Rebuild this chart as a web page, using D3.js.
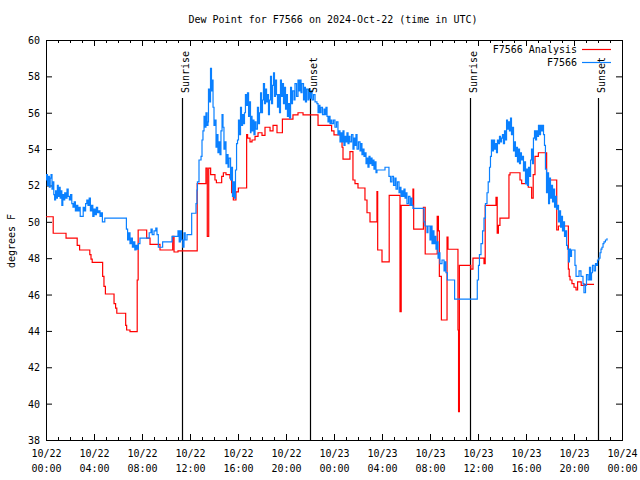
<!DOCTYPE html>
<html><head><meta charset="utf-8">
<script src="https://cdn.jsdelivr.net/npm/d3@7"></script>
<style>
body{margin:0;background:#fff}
svg{display:block}
text{font-family:"DejaVu Sans Mono","Liberation Mono",monospace;font-size:10px;fill:#000}
</style>
</head><body>
<svg id="chart" width="640" height="480"></svg>
<script>
const chartTitle = "Dew Point for F7566 on 2024-Oct-22 (time in UTC)";
const yAxisLabel = "degrees F";
const seriesNames = ["F7566 Analysis", "F7566"];
const seriesColors = ["#ff0000", "#0a80ff"];
const startTime = "2024-10-22T00:00:00Z";
const endTime = "2024-10-24T00:00:00Z";
const yDomain = [38, 60];
const yTickValues = [38, 40, 42, 44, 46, 48, 50, 52, 54, 56, 58, 60];
const eventNames = ["Sunrise", "Sunset", "Sunrise", "Sunset"];
const eventHours = [11.37, 22.0, 35.35, 45.96];

// hours since 2024-10-22 00:00 UTC, dew point (F)
const analysisSeries = [
[0,50.28],[0.6,49.37],[1.67,49.1],[2.6,48.7],[2.8,48.45],[3.65,48.2],[3.75,47.95],[3.85,47.77],[4.72,47.0],[4.83,46.45],[4.95,46.03],[5.67,45.5],[5.8,45.25],[5.9,44.97],[6.64,44.3],[6.72,44.05],[7.0,43.96],[7.6,46.8],[7.68,49.55],[8.39,49.1],[8.67,48.76],[9.5,48.45],[10.56,49.2],[10.67,48.34],[11.0,48.4],
[12.6,52.1],[13.33,52.95],[13.44,49.2],[13.56,52.95],[13.72,52.6],[14.08,52.3],[14.2,52.15],[14.64,52.5],[14.78,52.7],[15.0,52.6],[15.33,52.4],[15.47,51.6],[15.61,51.2],[15.83,51.65],[16.03,51.86],[16.72,54.8],[16.8,54.6],[17.0,54.4],[17.17,54.5],[17.42,54.7],[17.67,54.9],[18.0,54.75],[18.25,55.2],[18.67,55.0],[18.92,55.3],[19.25,54.9],[19.7,55.65],[20.58,55.88],[21.0,56.0],[21.42,55.88],[22.67,55.3],[23.8,55.0],[24.0,54.78],[24.67,54.1],[24.75,53.45],[25.33,53.86],[25.58,52.3],[25.75,52.1],[26.0,51.86],[26.58,51.2],[26.75,50.5],[27.0,50.0],[27.58,51.66],[27.64,48.45],[28.0,47.8],[28.6,51.45],[29.5,45.06],[29.6,50.9],[30.58,51.8],[30.64,49.6],[31.45,50.8],[31.6,48.23],[32.6,50.3],[32.7,49.5],[32.78,47.0],[32.95,44.6],[33.42,49.16],[33.5,48.49],[34.33,44.05],[34.38,39.56],[34.45,47.6],[35.4,47.4],[35.58,48.0],[36.5,47.7],[36.6,50.9],[37.5,51.35],[37.6,49.37],[37.7,49.8],[37.83,50.2],[38.58,52.58],[38.67,52.7],[39.5,52.3],[39.64,52.1],[40.19,51.9],[40.47,51.3],[40.6,52.6],[40.75,53.6],[41.03,53.8],[41.72,52.5],[41.78,52.3],[42.56,49.55],[42.7,49.77],[43.53,47.4],[43.6,47.0],[43.67,46.8],[43.83,46.6],[44.0,46.4],[44.17,46.25],[44.3,46.7],[44.6,46.5],[44.85,46.56],[45.67,46.56]
];

const observedSeries = [
[0.0,52.3],[0.05,52.6],[0.12,52.0],[0.2,52.5],[0.28,51.9],[0.35,52.4],[0.42,52.6],[0.5,51.8],[0.58,52.2],[0.65,51.5],[0.72,51.2],[0.8,51.7],[0.88,51.3],[0.95,52.0],[1.02,51.4],[1.1,51.9],[1.18,51.3],[1.25,51.7],[1.32,50.9],[1.4,51.5],[1.48,51.2],[1.56,51.6],[1.65,51.3],[1.75,51.8],[1.85,51.4],[1.95,51.2],[2.05,51.5],[2.15,51.0],[2.25,50.8],[2.35,51.1],[2.45,50.6],[2.55,50.9],[2.65,50.6],[2.75,50.8],[2.85,50.3],[3.1,50.8],[3.2,50.6],[3.3,51.0],[3.4,51.2],[3.5,50.9],[3.6,51.3],[3.7,50.6],[3.8,50.9],[3.9,50.3],[4.0,50.7],[4.1,50.4],[4.2,50.8],[4.3,50.5],[4.4,50.6],[4.5,50.3],[4.6,50.5],[4.7,50.0],[4.8,50.0],[4.9,50.2],
[6.7,49.6],[6.8,49.0],[6.9,49.4],[7.0,48.8],[7.1,49.1],[7.2,48.6],[7.3,48.9],[7.4,48.45],[7.5,48.7],[7.6,48.5],[7.7,48.8],[7.83,49.1],[8.6,49.4],[8.75,49.6],[8.85,49.3],[9.0,49.5],[9.15,49.65],[9.25,49.3],[9.36,48.6],[9.72,48.9],[10.5,49.2],[11.0,49.5],[11.1,48.9],[11.2,49.5],[11.3,49.0],[11.4,48.6],[11.5,49.4],[11.6,49.0],[11.75,49.3],
[12.14,50.47],[12.5,51.0],[12.58,51.75],[12.62,52.2],[12.75,53.4],[12.92,53.6],[13.0,54.5],[13.08,55.0],[13.17,55.8],[13.25,55.2],[13.33,56.0],[13.42,55.3],[13.5,55.5],[13.54,57.3],[13.62,56.6],[13.71,58.44],[13.79,57.2],[13.88,57.8],[13.92,56.3],[14.0,55.3],[14.08,55.6],[14.17,54.1],[14.25,54.8],[14.33,53.8],[14.42,54.4],[14.5,53.7],[14.58,55.0],[14.67,55.9],[14.75,55.2],[14.83,54.0],[14.92,54.4],[15.0,53.2],[15.08,53.7],[15.17,53.0],[15.25,53.5],[15.38,52.3],[15.46,53.0],[15.54,51.4],[15.62,52.2],[15.71,51.3],[15.79,52.85],[15.88,54.3],[15.96,54.5],[16.04,55.6],[16.12,54.8],[16.21,56.3],[16.29,55.3],[16.38,55.9],[16.46,55.4],[16.54,56.0],[16.62,57.0],[16.71,56.4],[16.79,57.1],[16.88,55.8],[16.96,56.6],[17.04,54.9],
[17.08,55.8],[17.17,55.0],[17.25,55.6],[17.33,54.8],[17.42,55.5],[17.5,55.1],[17.62,56.3],[17.71,55.4],[17.79,56.0],[17.88,57.1],[17.96,56.0],[18.04,56.7],[18.12,57.6],[18.21,56.5],[18.29,57.3],[18.38,56.6],[18.46,57.0],[18.54,55.9],[18.62,56.7],[18.71,58.0],[18.79,56.5],[18.88,57.5],[18.96,58.2],[19.04,56.9],[19.12,57.8],[19.21,57.0],[19.29,56.3],[19.38,57.0],[19.46,56.0],[19.54,57.8],[19.62,56.9],[19.71,57.6],[19.79,56.5],[19.88,57.4],[19.96,56.2],[20.04,57.0],[20.12,55.8],[20.21,56.5],[20.29,55.7],[20.38,57.4],[20.46,56.5],[20.54,57.2],[20.67,56.7],[20.75,57.6],[20.88,56.9],[21.0,57.8],[21.08,57.2],[21.17,57.8],[21.25,57.1],[21.33,57.6],[21.46,56.7],[21.54,57.4],[21.62,56.6],[21.71,57.3],[21.83,56.7],[21.92,57.3],[22.0,56.8],[22.08,57.2],[22.17,56.7],[22.29,57.0],[22.42,56.6],[22.58,56.5],[22.67,56.0],[22.75,56.4],[22.83,56.0],[22.92,56.3],[23.04,55.9],[23.17,56.2],
[23.25,55.9],[23.33,56.3],[23.42,55.8],[23.5,55.5],[23.58,55.8],[23.67,55.4],[23.75,55.6],[23.83,55.4],[23.96,55.6],[24.08,55.2],[24.21,55.5],[24.33,54.8],[24.42,55.0],[24.5,54.4],[24.58,54.9],[24.67,54.4],[24.75,55.0],[24.83,54.2],[24.92,54.7],[25.0,54.4],[25.08,54.9],[25.17,54.3],[25.25,54.7],[25.33,54.4],[25.46,54.8],[25.58,54.0],[25.67,54.6],[25.75,54.2],[25.83,54.8],[25.92,54.0],[26.04,54.4],[26.17,53.9],[26.25,54.3],[26.33,53.7],[26.42,54.0],[26.5,53.6],[26.58,53.8],[26.67,53.2],[26.75,53.5],[26.83,53.0],[26.92,53.6],[27.0,53.2],[27.08,53.5],[27.17,53.1],[27.25,53.4],[27.33,52.9],[27.42,53.3],[27.5,52.7],[27.58,52.85],[28.25,53.0],[28.58,52.5],[28.71,52.2],[28.83,52.5],[28.96,52.0],[29.08,52.4],[29.17,51.8],[29.29,52.2],[29.42,51.6],[29.5,51.9],[29.58,51.4],[29.67,51.7],[29.75,51.4],[29.83,51.8],[29.92,51.3],[30.0,51.6],[30.08,51.0],[30.21,51.4],[30.33,50.9],[30.42,51.3],[30.5,50.9],[30.58,50.74],[31.42,50.74],[31.5,50.0],[31.58,49.77],[31.75,49.4],[31.83,49.77],[32.0,49.0],[32.08,49.77],[32.17,48.8],[32.25,49.5],[32.33,48.8],[32.42,49.2],[32.5,48.5],[32.58,48.9],[32.67,48.0],[32.75,48.3],[32.83,47.7],[33.0,47.9],[33.17,47.3],[33.25,47.8],[33.33,47.2],[33.45,46.8],[34.05,45.75],
[35.94,46.8],[36.04,47.6],[36.12,48.2],[36.25,48.8],[36.38,49.5],[36.5,50.2],[36.62,51.0],[36.75,51.6],[36.85,52.2],[36.96,53.0],[37.04,53.6],[37.12,54.5],[37.21,53.9],[37.29,54.5],[37.38,54.0],[37.46,54.3],[37.54,53.8],[37.62,54.5],[37.71,54.3],[37.79,54.7],[37.88,54.4],[37.96,54.6],[38.04,54.8],[38.12,54.3],[38.21,55.0],[38.29,54.5],[38.38,55.6],[38.46,55.1],[38.54,55.5],[38.62,55.0],[38.71,55.7],[38.79,54.8],[38.88,55.2],[38.96,53.9],[39.04,54.4],[39.12,53.6],[39.21,54.1],[39.29,53.3],[39.38,54.0],[39.46,53.2],[39.54,53.8],[39.62,53.4],[39.71,53.6],[39.79,52.8],[39.88,53.3],[39.96,52.1],[40.04,52.9],[40.12,52.0],[40.21,53.0],[40.29,52.5],[40.38,53.4],[40.46,54.0],[40.54,53.2],[40.62,54.6],[40.71,55.0],[40.79,54.5],[40.88,55.0],[40.96,54.7],[41.04,55.3],[41.12,54.8],[41.21,55.3],[41.29,55.0],[41.38,55.3],[41.46,54.8],[41.54,54.2],[41.62,52.9],[41.71,51.6],[41.79,52.7],[41.88,51.0],[41.96,52.4],[42.04,51.3],[42.12,52.0],[42.21,51.1],[42.29,51.8],[42.38,50.8],[42.46,51.4],[42.54,50.7],[42.62,50.9],[42.71,50.0],[42.79,50.6],[42.88,49.7],[42.96,50.3],[43.04,49.5],[43.12,50.0],[43.21,49.2],[43.29,49.5],[43.38,48.7],[43.46,48.5],[43.54,47.8],[43.62,48.5],[43.71,48.1],[43.79,48.45],[44.08,47.6],[44.17,47.0],[44.42,47.3],[44.58,47.0],[44.75,46.6],[44.83,46.1],[44.96,46.5],[45.04,47.1],[45.17,46.8],[45.29,47.5],[45.38,46.8],[45.46,47.2],[45.54,47.6],[45.67,47.3],[45.79,47.7],[45.88,47.6],[45.96,47.9],[46.08,48.0],[46.17,48.3],[46.25,48.5],[46.33,48.6],[46.42,48.8],[46.5,48.9],[46.62,49.0],[46.75,49.1]
];

const svg = d3.select("#chart");
const margin = {left: 46, right: 622, top: 40, bottom: 440};
const t0 = new Date(startTime), t1 = new Date(endTime);
const toDate = h => new Date(t0.getTime() + h * 3600000);

const x = d3.scaleUtc().domain([t0, t1]).range([margin.left, margin.right]);
const y = d3.scaleLinear().domain(yDomain).range([margin.bottom, margin.top]);

svg.append("rect").attr("width", 640).attr("height", 480).attr("fill", "#fff");

// title
svg.append("text").attr("x", 333).attr("y", 23).attr("text-anchor", "middle").text(chartTitle);

// y label
svg.append("text").attr("transform", "translate(15,241) rotate(-90)").attr("text-anchor", "middle").text(yAxisLabel);

const majorTicks = d3.utcHour.every(4).range(t0, d3.utcHour.offset(t1, 1));
const minorTicks = d3.utcHour.every(1).range(t0, d3.utcHour.offset(t1, 1));

function styleAxis(g) {
  g.select(".domain").remove();
  g.selectAll(".tick line").attr("stroke", "#000").attr("stroke-width", 1);
  g.selectAll("text").style("font-family", '"DejaVu Sans Mono","Liberation Mono",monospace').style("font-size", "10px").attr("fill", "#000");
}

// bottom minor + major
svg.append("g").attr("transform", `translate(0,${margin.bottom})`)
  .call(d3.axisBottom(x).tickValues(minorTicks).tickSize(-3).tickSizeOuter(0).tickFormat(""))
  .call(styleAxis);
const fmtDate = d3.utcFormat("%m/%d"), fmtTime = d3.utcFormat("%H:%M");
const bottomAxis = svg.append("g").attr("transform", `translate(0,${margin.bottom})`)
  .call(d3.axisBottom(x).tickValues(majorTicks).tickSize(-6).tickSizeOuter(0).tickFormat(d => fmtDate(d)))
  .call(styleAxis);
bottomAxis.selectAll(".tick text").each(function(d) {
  const t = d3.select(this);
  t.attr("dy", null).attr("y", null).text(null);
  t.append("tspan").attr("x", 0).attr("y", 17).text(fmtDate(d));
  t.append("tspan").attr("x", 0).attr("y", 32).text(fmtTime(d));
});

// top ticks
svg.append("g").attr("transform", `translate(0,${margin.top})`)
  .call(d3.axisTop(x).tickValues(minorTicks).tickSize(-3).tickSizeOuter(0).tickFormat(""))
  .call(styleAxis);
svg.append("g").attr("transform", `translate(0,${margin.top})`)
  .call(d3.axisTop(x).tickValues(majorTicks).tickSize(-6).tickSizeOuter(0).tickFormat(""))
  .call(styleAxis);

// left axis
const leftAxis = svg.append("g").attr("transform", `translate(${margin.left},0)`)
  .call(d3.axisLeft(y).tickValues(yTickValues).tickSize(-6).tickSizeOuter(0).tickPadding(6).tickFormat(d3.format("d")))
  .call(styleAxis);
leftAxis.selectAll(".tick text").attr("dy", "0.35em");

// right axis
svg.append("g").attr("transform", `translate(${margin.right},0)`)
  .call(d3.axisRight(y).tickValues(yTickValues).tickSize(-6).tickSizeOuter(0).tickFormat(""))
  .call(styleAxis);

// frame
svg.append("rect").attr("x", margin.left + 0.5).attr("y", margin.top + 0.5)
  .attr("width", margin.right - margin.left).attr("height", margin.bottom - margin.top)
  .attr("fill", "none").attr("stroke", "#000").attr("stroke-width", 1);

// clip
svg.append("clipPath").attr("id", "clip").append("rect")
  .attr("x", margin.left).attr("y", margin.top)
  .attr("width", margin.right - margin.left).attr("height", margin.bottom - margin.top);

const line = d3.line().curve(d3.curveStepAfter)
  .x(d => x(toDate(d[0]))).y(d => y(d[1]));

const plot = svg.append("g").attr("clip-path", "url(#clip)");

// event lines
const events = eventNames.map((n, i) => ({name: n, t: toDate(eventHours[i])}));
plot.selectAll("line.event").data(events).enter().append("line")
  .attr("class", "event")
  .attr("x1", d => Math.round(x(d.t)) + 0.5).attr("x2", d => Math.round(x(d.t)) + 0.5)
  .attr("y1", 98).attr("y2", margin.bottom)
  .attr("stroke", "#000").attr("stroke-width", 1.2);
svg.selectAll("text.event").data(events).enter().append("text")
  .attr("class", "event")
  .attr("transform", d => `translate(${Math.round(x(d.t)) + 7},93) rotate(-90)`)
  .attr("text-anchor", "start")
  .text(d => d.name);

plot.append("path").datum(analysisSeries)
  .attr("fill", "none").attr("stroke", seriesColors[0]).attr("stroke-width", 1.2)
  .attr("d", line);
plot.append("path").datum(observedSeries)
  .attr("fill", "none").attr("stroke", seriesColors[1]).attr("stroke-width", 1.2)
  .attr("d", line);

// legend
const legend = svg.append("g");
seriesNames.forEach((name, i) => {
  const ly = 49 + i * 13;
  legend.append("text").attr("x", 577).attr("y", ly + 4).attr("text-anchor", "end").text(name);
  legend.append("line").attr("x1", 582).attr("x2", 611).attr("y1", ly + 0.5).attr("y2", ly + 0.5)
    .attr("stroke", seriesColors[i]).attr("stroke-width", 1.2);
});
</script>
</body></html>
